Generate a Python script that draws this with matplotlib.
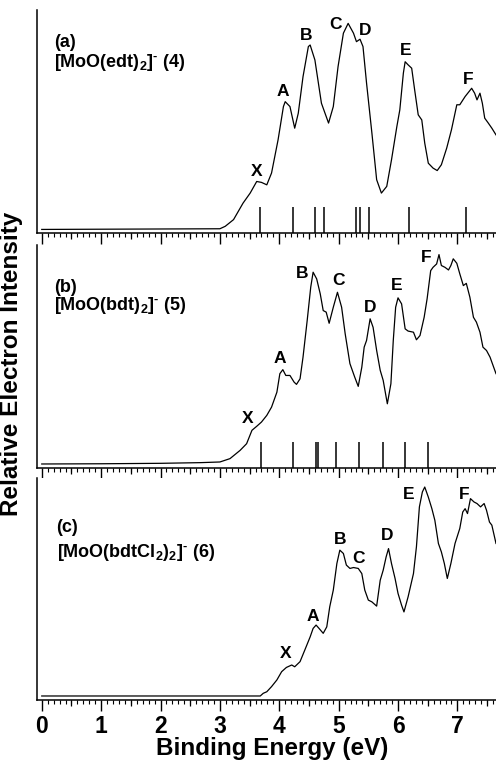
import numpy as np
import matplotlib.pyplot as plt
import matplotlib.transforms as mtransforms

plt.rcParams['font.family'] = ['Liberation Sans', 'DejaVu Sans']
plt.rcParams['font.weight'] = 'bold'
plt.rcParams['mathtext.fontset'] = 'custom'
plt.rcParams['mathtext.rm'] = 'Liberation Sans:bold'
plt.rcParams['mathtext.bf'] = 'Liberation Sans:bold'

# (a) [MoO(edt)2]-
a_ev = [0.0, 1.0, 2.0, 3.0, 3.09, 3.23, 3.39, 3.51, 3.62, 3.70, 3.79, 3.87, 3.98, 4.07,
        4.10, 4.18, 4.26, 4.32, 4.40, 4.49, 4.52, 4.60, 4.71, 4.83, 4.91, 4.99, 5.08, 5.16,
        5.25, 5.30, 5.36, 5.41, 5.47, 5.56, 5.64, 5.72, 5.81, 5.89, 5.98, 6.03, 6.09, 6.12,
        6.17, 6.23, 6.28, 6.34, 6.40, 6.45, 6.51, 6.59, 6.66, 6.73, 6.82, 6.90, 6.99, 7.04,
        7.13, 7.24, 7.29, 7.33, 7.38, 7.42, 7.46, 7.52, 7.58, 7.65]
a_int = [1.6, 1.7, 1.8, 1.9, 3.0, 6.0, 13.4, 17.9, 23.1, 22.7, 21.6, 26.9, 41.8, 56.7,
         58.9, 56.7, 47.0, 53.7, 70.1, 83.6, 84.3, 77.6, 58.2, 49.3, 56.7, 74.6, 89.6, 94.0,
         89.6, 85.8, 86.9, 83.6, 67.2, 44.8, 23.9, 17.9, 20.9, 32.8, 47.7, 55.2, 71.7, 76.8,
         75.4, 73.9, 64.2, 53.0, 50.7, 40.3, 31.3, 29.1, 28.0, 30.6, 38.1, 46.3, 57.5, 57.5,
         61.2, 64.9, 62.7, 59.7, 62.7, 58.2, 51.5, 49.3, 47.0, 44.0]
a_sticks = [3.67, 4.23, 4.61, 4.76, 5.30, 5.36, 5.51, 6.19, 7.15]
a_peaks = ['X', 'A', 'B', 'C', 'D', 'E', 'F']
a_peak_ev = [3.62, 4.06, 4.46, 4.94, 5.44, 6.13, 7.18]
a_peak_int = [27.6, 63.4, 88.4, 93.7, 90.7, 81.8, 68.8]

# (b) [MoO(bdt)2]-
b_ev = [0.0, 1.0, 2.0, 2.67, 3.00, 3.17, 3.34, 3.45, 3.54, 3.62, 3.70, 3.79, 3.87,
        3.96, 4.01, 4.06, 4.11, 4.18, 4.25, 4.29, 4.35, 4.40, 4.47, 4.53, 4.57, 4.63, 4.69,
        4.74, 4.79, 4.84, 4.91, 4.98, 5.05, 5.11, 5.19, 5.27, 5.33, 5.39, 5.43, 5.47, 5.53,
        5.58, 5.64, 5.70, 5.75, 5.82, 5.88, 5.92, 5.96, 6.00, 6.06, 6.12, 6.17, 6.26, 6.31,
        6.37, 6.44, 6.49, 6.55, 6.59, 6.65, 6.69, 6.73, 6.79, 6.85, 6.89, 6.93, 6.99, 7.04,
        7.10, 7.15, 7.21, 7.27, 7.32, 7.38, 7.43, 7.49, 7.55, 7.65]
b_int = [1.8, 1.9, 2.1, 2.4, 2.7, 4.2, 7.9, 10.9, 16.9, 18.7, 20.6, 23.6, 27.3,
         34.0, 42.3, 44.1, 41.5, 41.5, 38.5, 37.5, 40.0, 49.7, 66.1, 81.1, 87.8, 84.8, 78.1,
         70.6, 69.9, 64.9, 72.1, 78.8, 72.1, 60.2, 46.8, 40.8, 36.6, 45.2, 54.2, 57.2, 66.9,
         63.1, 52.7, 43.8, 39.3, 28.8, 37.8, 57.2, 72.1, 76.3, 73.6, 62.4, 61.4, 60.9, 57.5,
         59.4, 67.6, 75.9, 88.5, 90.0, 91.5, 95.7, 90.8, 90.0, 88.8, 90.8, 93.8, 91.8, 87.1,
         81.8, 82.8, 76.6, 67.6, 65.4, 60.9, 54.2, 52.7, 49.7, 42.3]
b_sticks = [3.69, 4.23, 4.62, 4.65, 4.95, 5.35, 5.74, 6.12, 6.50]
b_peaks = ['X', 'A', 'B', 'C', 'D', 'E', 'F']
b_peak_ev = [3.46, 4.01, 4.38, 4.99, 5.53, 5.98, 6.47]
b_peak_int = [22.1, 49.0, 87.1, 84.1, 72.1, 81.8, 94.5]

# (c) [MoO(bdtCl2)2]-
c_ev = [0.0, 1.0, 2.0, 3.0, 3.68, 3.73, 3.79, 3.87, 3.96, 4.04, 4.12, 4.21, 4.26, 4.35,
        4.43, 4.52, 4.57, 4.62, 4.67, 4.74, 4.80, 4.85, 4.91, 4.97, 5.02, 5.08, 5.13, 5.19,
        5.25, 5.33, 5.39, 5.44, 5.50, 5.56, 5.64, 5.70, 5.75, 5.80, 5.84, 5.89, 5.95, 6.00,
        6.06, 6.10, 6.17, 6.26, 6.31, 6.36, 6.41, 6.45, 6.51, 6.57, 6.62, 6.68, 6.73, 6.78,
        6.83, 6.89, 6.96, 7.04, 7.09, 7.13, 7.17, 7.22, 7.28, 7.33, 7.39, 7.45, 7.49, 7.54,
        7.58, 7.65]
c_int = [1.8, 1.8, 1.8, 1.8, 1.8, 3.0, 3.7, 6.0, 9.0, 12.7, 14.6, 15.7, 14.9, 17.2,
         22.4, 28.3, 32.1, 33.6, 32.1, 29.9, 32.8, 41.8, 49.3, 61.2, 67.2, 65.7, 60.5, 59.0,
         59.4, 59.0, 56.7, 49.3, 44.8, 44.0, 42.1, 53.7, 58.2, 64.2, 67.9, 61.2, 54.5, 47.8,
         42.5, 39.5, 46.3, 56.7, 68.7, 86.6, 93.3, 95.5, 91.0, 85.8, 80.6, 70.2, 66.4, 61.2,
         54.5, 61.2, 70.2, 76.9, 84.3, 85.8, 83.6, 90.3, 88.8, 88.1, 86.6, 88.1, 85.1, 79.8,
         78.4, 70.2]
c_sticks = []
c_peaks = ['X', 'A', 'B', 'C', 'D', 'E', 'F']
c_peak_ev = [4.11, 4.56, 5.02, 5.34, 5.82, 6.18, 7.11]
c_peak_int = [20.9, 37.6, 72.0, 63.5, 73.9, 92.3, 92.3]

panel_tags = ['(a)', '(b)', '(c)']
panel_names = [r'[MoO(edt)$_\mathbf{2}$]$^{\text{-}}$ (4)',
               r'[MoO(bdt)$_\mathbf{2}$]$^{\text{-}}$ (5)',
               r'[MoO(bdtCl$_\mathbf{2}$)$_\mathbf{2}$]$^{\text{-}}$ (6)']

W, H = 496, 762
fig = plt.figure(figsize=(W / 100, H / 100), dpi=100)

# panel boxes in pixels: (top, bottom)
boxes = [(10, 233), (245, 468), (478, 700)]
left_px = 37
tag_x = [0.2, 0.2, 0.25]
tag_y = [0.855, 0.81, 0.775]
name_y = [0.765, 0.728, 0.665]

data = [(a_ev, a_int, a_sticks, a_peaks, a_peak_ev, a_peak_int),
        (b_ev, b_int, b_sticks, b_peaks, b_peak_ev, b_peak_int),
        (c_ev, c_int, c_sticks, c_peaks, c_peak_ev, c_peak_int)]

axes = []
for i, (top, bot) in enumerate(boxes):
    ax = fig.add_axes([left_px / W, (H - bot) / H, 1 - left_px / W, (bot - top) / H])
    ev, inten, sticks, peaks, pev, pint = data[i]
    ax.plot(ev, inten, color='black', linewidth=0.9)
    if sticks:
        ax.vlines(sticks, 0, 11.5, color='black', linewidth=1.1)
    for lab, x, y in zip(peaks, pev, pint):
        ax.text(x, y, lab, ha='center', va='center', fontsize=12.5, fontweight='bold')
    ax.text(tag_x[i], tag_y[i], panel_tags[i], transform=ax.get_xaxis_transform(),
            fontsize=13, fontweight='bold', va='center')
    ax.text(tag_x[i], name_y[i], panel_names[i], transform=ax.get_xaxis_transform(),
            fontsize=13, fontweight='bold', va='center')

    ax.set_xlim(-0.08, 7.65)
    ax.set_ylim(0, 100 * (bot - top) / 223)
    for s in ['top', 'right']:
        ax.spines[s].set_visible(False)
    ax.spines['left'].set_linewidth(1.1)
    ax.spines['bottom'].set_linewidth(1.1)
    ax.set_yticks([])
    ax.set_xticks(np.arange(0, 8, 1))
    ax.set_xticks(np.arange(0, 7.66, 0.1), minor=True)
    ax.tick_params(axis='x', which='major', direction='out', length=8, width=1.0,
                   labelsize=16.5, pad=3)
    ax.tick_params(axis='x', which='minor', direction='out', length=3, width=0.8)
    # half-unit ticks, a bit longer than the minor ones
    trans = mtransforms.blended_transform_factory(ax.transData, ax.transAxes)
    ax.vlines(np.arange(0.5, 7.6, 1.0), 0, -6 / (bot - top), transform=trans,
              color='black', linewidth=0.9, clip_on=False)
    if i < 2:
        ax.tick_params(axis='x', labelbottom=False)
    axes.append(ax)

axes[2].set_xlabel('Binding Energy (eV)', fontsize=17.5, fontweight='bold')
axes[2].xaxis.set_label_coords(0.513, -0.168)
fig.text(12 / W, 1 - 364 / H, 'Relative Electron Intensity', rotation=90,
         ha='center', va='center', fontsize=17.5, fontweight='bold')

plt.savefig('out.png', dpi=100)
